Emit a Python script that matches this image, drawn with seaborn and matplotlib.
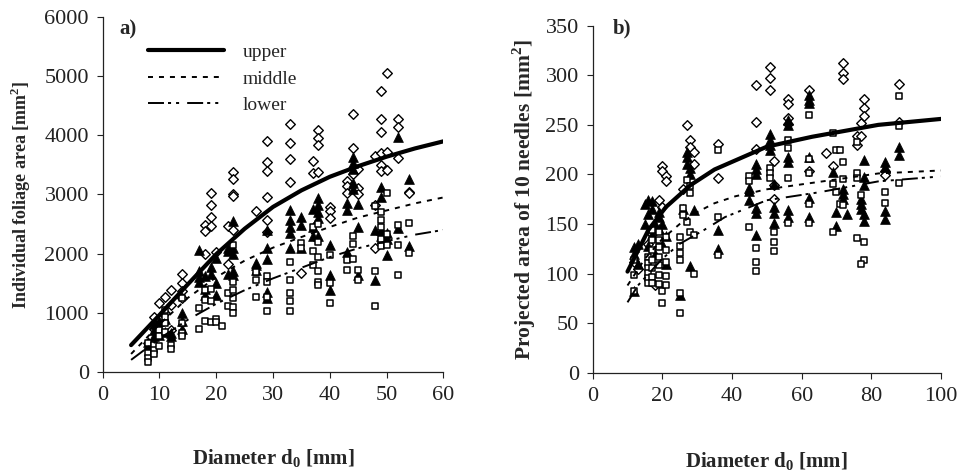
import matplotlib
matplotlib.use('Agg')
import matplotlib.pyplot as plt
import seaborn as sns

# ---------------------------------------------------------
# datos panel a) area foliar individual vs diametro
# ---------------------------------------------------------
a_rombos = [(8, 480), (9, 930), (9, 720), (10, 1160), (10, 900), (10, 800), (11, 1270), (11, 1000),
            (12, 1380), (12, 1130), (12, 700), (14, 1660), (14, 1500), (14, 1360), (14, 1250),
            (18, 2490), (18, 2390), (18, 2000), (19, 3030), (19, 2820), (19, 2620), (19, 2460), (20, 2030),
            (22, 2460), (22, 1820), (23, 3380), (23, 3270), (23, 3000), (23, 2980), (23, 2400), (27, 2720),
            (29, 3900), (29, 3550), (29, 3400), (29, 2960), (29, 2570), (29, 2370),
            (33, 4200), (33, 3870), (33, 3600), (33, 3220), (35, 1670), (37, 3560), (37, 3370),
            (38, 4100), (38, 3960), (38, 3840), (38, 3380), (40, 2790), (40, 2720), (40, 2600),
            (43, 3230), (43, 3140), (43, 3030), (44, 4370), (44, 3780), (44, 3340), (45, 3440), (45, 3110),
            (45, 3000), (48, 3650), (48, 2820), (48, 2090), (49, 4750), (49, 4270), (49, 4060), (49, 3700),
            (49, 3500), (49, 3400), (50, 5060), (50, 3720), (50, 3410), (52, 4280), (52, 4150), (52, 3610),
            (54, 3050), (54, 3030)]

a_triangulos = [(8, 500), (8, 450), (9, 800), (9, 700), (9, 600), (10, 850), (10, 750), (10, 620), (11, 900),
                (11, 680), (12, 650), (12, 600), (14, 990), (14, 850), (14, 730), (17, 2060), (17, 1700),
                (17, 1600), (17, 1520), (18, 1620), (18, 1400), (18, 1300), (19, 1780), (19, 1650), (20, 1920),
                (20, 1500), (20, 1300), (22, 2100), (22, 2050), (22, 1650), (23, 2550), (23, 2100), (23, 2000),
                (23, 1700), (23, 1640), (27, 1840), (27, 1800), (27, 1720), (29, 2400), (29, 2090), (29, 1900),
                (29, 1350), (29, 1250), (33, 2740), (33, 2570), (33, 2450), (33, 2340), (33, 2100), (35, 2620),
                (35, 2480), (35, 2100), (37, 2750), (37, 2450), (37, 2300), (38, 2940), (38, 2830), (38, 2700),
                (38, 2600), (38, 2300), (40, 2150), (40, 1640), (40, 1380), (43, 2850), (43, 2740), (43, 2030),
                (44, 3640), (44, 3530), (44, 3440), (44, 3200), (44, 3100), (45, 2840), (45, 2450), (45, 1640),
                (48, 2400), (48, 1560), (49, 3130), (49, 2950), (49, 2400), (49, 2300), (50, 2350), (50, 2250),
                (50, 1980), (52, 3980), (52, 2430), (54, 3270), (54, 2120)]

a_cuadrados = [(8, 480), (8, 310), (8, 240), (8, 170), (9, 450), (9, 370), (9, 300), (10, 700), (10, 600),
               (10, 430), (11, 1040), (11, 930), (11, 820), (11, 680), (12, 450), (12, 390), (14, 1250),
               (14, 830), (14, 650), (14, 610), (17, 1070), (17, 730), (18, 1380), (18, 1210), (18, 850),
               (19, 1400), (19, 1200), (19, 840), (20, 900), (20, 840), (21, 770), (22, 1330), (22, 1110),
               (23, 1510), (23, 1380), (23, 1250), (23, 1100), (23, 990), (23, 2150), (27, 1690), (27, 1560),
               (27, 1270), (29, 1620), (29, 1520), (29, 1270), (29, 1020), (33, 1860), (33, 1560), (33, 1330),
               (33, 1200), (33, 1030), (35, 2180), (35, 2100), (37, 2450), (37, 2050), (37, 1810), (38, 2500),
               (38, 2200), (38, 1950), (38, 1700), (38, 1520), (38, 1460), (40, 1980), (40, 1500), (40, 1170),
               (43, 1890), (43, 1730), (44, 2300), (44, 2170), (44, 1900), (45, 1730), (45, 1550), (48, 2800),
               (48, 1710), (48, 1110), (49, 2700), (49, 2560), (49, 2450), (49, 2240), (49, 2130), (50, 3020),
               (50, 2330), (50, 2150), (52, 2480), (52, 2150), (52, 1640), (54, 2510), (54, 2010)]

a_curva_x = [5, 10, 15, 20, 25, 30, 35, 40, 45, 50, 55, 60]
a_upper = [450, 960, 1480, 1990, 2420, 2790, 3070, 3300, 3480, 3640, 3780, 3900]
a_middle = [300, 800, 1250, 1600, 1880, 2100, 2280, 2450, 2610, 2730, 2850, 2950]
a_lower = [200, 560, 880, 1150, 1380, 1580, 1760, 1940, 2090, 2210, 2320, 2400]

# ---------------------------------------------------------
# datos panel b) area proyectada de 10 aciculas
# ---------------------------------------------------------
b_rombos = [(12, 112), (13, 105), (16, 130), (17, 140), (18, 88), (19, 174), (20, 209), (20, 203), (21, 198),
            (21, 193), (20, 167), (26, 185), (27, 250), (28, 235), (28, 228), (29, 223), (29, 211), (36, 231),
            (36, 196), (47, 290), (47, 253), (47, 226), (51, 308), (51, 297), (51, 285), (52, 214), (52, 189),
            (52, 175), (56, 276), (56, 271), (56, 257), (56, 251), (62, 285), (62, 203), (67, 222), (69, 209),
            (72, 312), (72, 302), (72, 296), (76, 239), (77, 239), (76, 230), (77, 252), (78, 276), (78, 267),
            (78, 259), (84, 203), (84, 199), (88, 291), (88, 253)]

b_triangulos = [(12, 127), (12, 120), (12, 82), (13, 130), (13, 110), (15, 170), (15, 150), (16, 174), (16, 160),
                (16, 128), (17, 173), (17, 165), (17, 140), (18, 150), (18, 120), (19, 162), (19, 157), (19, 145),
                (20, 150), (20, 130), (21, 138), (21, 110), (25, 78), (26, 165), (27, 223), (27, 218), (27, 211),
                (28, 206), (28, 200), (28, 108), (29, 164), (36, 144), (36, 125), (45, 183), (45, 174), (45, 186),
                (47, 211), (47, 205), (47, 200), (47, 166), (47, 161), (47, 139), (51, 241), (51, 235), (51, 230),
                (51, 225), (52, 190), (52, 167), (52, 161), (52, 151), (56, 255), (56, 250), (56, 218), (56, 213),
                (56, 164), (56, 157), (62, 280), (62, 275), (62, 272), (62, 218), (62, 176), (62, 157), (69, 202),
                (70, 162), (70, 148), (72, 185), (72, 180), (72, 175), (73, 160), (77, 175), (77, 170), (77, 165),
                (78, 215), (78, 197), (78, 189), (78, 160), (78, 153), (84, 213), (84, 208), (84, 163), (84, 155),
                (88, 228), (88, 220)]

b_cuadrados = [(12, 114), (12, 99), (12, 82), (16, 117), (16, 111), (16, 106), (16, 101), (16, 96), (16, 91),
               (17, 144), (17, 134), (17, 124), (17, 114), (17, 106), (17, 97), (17, 91), (19, 142), (19, 134),
               (19, 127), (19, 117), (19, 109), (19, 99), (19, 89), (20, 82), (20, 70), (21, 137), (21, 124),
               (21, 112), (21, 98), (21, 88), (25, 137), (25, 128), (25, 121), (25, 114), (25, 80), (25, 60),
               (26, 166), (26, 159), (27, 152), (27, 194), (28, 188), (28, 181), (28, 142), (29, 139), (29, 100),
               (36, 225), (36, 157), (36, 119), (45, 198), (45, 193), (45, 147), (47, 126), (47, 112), (47, 103),
               (51, 206), (51, 201), (51, 196), (52, 142), (52, 132), (52, 123), (56, 235), (56, 227), (56, 196),
               (56, 151), (62, 260), (62, 216), (62, 201), (62, 170), (62, 151), (69, 242), (70, 225), (71, 225),
               (72, 213), (69, 190), (70, 182), (72, 195), (71, 170), (72, 169), (69, 142), (76, 233), (76, 201),
               (76, 196), (77, 179), (76, 136), (78, 132), (78, 114), (77, 110), (84, 182), (84, 171), (88, 279),
               (88, 249), (88, 191)]

b_upper_x = [10, 16, 21, 28, 35, 50, 63, 82, 100]
b_upper = [102, 144, 167, 189, 205, 228, 238, 250, 256]
b_middle_x = [10, 15, 20, 25, 30, 35, 41, 50, 62, 68, 82, 100]
b_middle = [88, 115, 135, 150, 162, 171, 178, 185, 191, 194, 201, 204]
b_lower_x = [10, 13, 20, 25, 32, 38, 50, 65, 82, 100]
b_lower = [71, 88, 115, 130, 144, 157, 174, 182, 193, 198]


###########################################################
# estilo
###########################################################
sns.set_theme(style='ticks')
plt.rcParams['font.family'] = ['Liberation Serif', 'DejaVu Serif']
plt.rcParams['lines.scale_dashes'] = False
plt.rcParams['axes.edgecolor'] = '#222222'
plt.rcParams['xtick.color'] = '#222222'
plt.rcParams['ytick.color'] = '#222222'

FS_TICK = 16
FS_XLABEL = 15

estilo_middle = (0, (3.6, 4.3))
estilo_lower = (0, (11.5, 2.9, 2.2, 3.6, 2.2, 5.8))


def dibujar_puntos(ax, rombos, triangulos, cuadrados):
    sns.scatterplot(x=[p[0] for p in rombos], y=[p[1] for p in rombos], marker='D', s=24,
                    color='white', edgecolor='black', linewidth=1.0, ax=ax, zorder=2)
    sns.scatterplot(x=[p[0] for p in triangulos], y=[p[1] for p in triangulos], marker='^', s=50,
                    color='black', edgecolor='black', linewidth=0.5, ax=ax, zorder=2)
    sns.scatterplot(x=[p[0] for p in cuadrados], y=[p[1] for p in cuadrados], marker='s', s=22,
                    color='white', edgecolor='black', linewidth=1.1, ax=ax, zorder=2)


def formato_ejes(ax):
    sns.despine(ax=ax)
    ax.tick_params(axis='both', direction='out', length=4, width=0.8, labelsize=FS_TICK, pad=6)
    ax.spines['left'].set_linewidth(0.9)
    ax.spines['bottom'].set_linewidth(0.9)
    ax.grid(False)


fig = plt.figure(figsize=(9.59, 4.73), dpi=100)
ax1 = fig.add_axes([0.1071, 0.2142, 0.3552, 0.7492])
ax2 = fig.add_axes([0.6180, 0.2120, 0.3632, 0.7336])

# ---- panel a ----
dibujar_puntos(ax1, a_rombos, a_triangulos, a_cuadrados)
sns.lineplot(x=a_curva_x, y=a_upper, color='black', lw=3, ax=ax1, zorder=3, label='upper')
sns.lineplot(x=a_curva_x, y=a_middle, color='black', lw=1.4, linestyle=estilo_middle, ax=ax1, zorder=3,
             label='middle')
sns.lineplot(x=a_curva_x, y=a_lower, color='black', lw=1.4, linestyle=estilo_lower, ax=ax1, zorder=3,
             label='lower')
ax1.set_xlim(0, 60)
ax1.set_ylim(0, 6000)
ax1.set_xticks(range(0, 61, 10))
ax1.set_yticks(range(0, 6001, 1000))
formato_ejes(ax1)
ax1.set_xlabel('Diameter d$_\\mathregular{0}$ [mm]', fontsize=FS_XLABEL, fontweight='bold')
ax1.set_ylabel('Individual foliage area [mm$^\\mathregular{2}$]', fontsize=13, fontweight='bold')
ax1.xaxis.set_label_coords(0.5, -0.215)
ax1.yaxis.set_label_coords(-0.205, 0.5)
ax1.text(0.05, 0.995, 'a)', transform=ax1.transAxes, fontsize=15, fontweight='bold', va='top')
ley = ax1.legend(loc='upper left', bbox_to_anchor=(0.132, 0.926), frameon=False, fontsize=14,
                 handlelength=3.9, handletextpad=1.0, labelspacing=0.45, borderaxespad=0, borderpad=0)

# ---- panel b ----
dibujar_puntos(ax2, b_rombos, b_triangulos, b_cuadrados)
sns.lineplot(x=b_upper_x, y=b_upper, color='black', lw=3, ax=ax2, zorder=3)
sns.lineplot(x=b_middle_x, y=b_middle, color='black', lw=1.4, linestyle=estilo_middle, ax=ax2, zorder=3)
sns.lineplot(x=b_lower_x, y=b_lower, color='black', lw=1.4, linestyle=estilo_lower, ax=ax2, zorder=3)
ax2.set_xlim(0, 100)
ax2.set_ylim(0, 350)
ax2.set_xticks(range(0, 101, 20))
ax2.set_yticks(range(0, 351, 50))
formato_ejes(ax2)
ax2.set_xlabel('Diameter d$_\\mathregular{0}$ [mm]', fontsize=FS_XLABEL, fontweight='bold')
ax2.set_ylabel('Projected area of 10 needles [mm$^\\mathregular{2}$]', fontsize=15.5, fontweight='bold')
ax2.xaxis.set_label_coords(0.5, -0.223)
ax2.yaxis.set_label_coords(-0.158, 0.5)
ax2.text(0.058, 1.02, 'b)', transform=ax2.transAxes, fontsize=15, fontweight='bold', va='top')
if ax2.get_legend() is not None:
    ax2.get_legend().remove()

fig.savefig('out.png', dpi=100)
